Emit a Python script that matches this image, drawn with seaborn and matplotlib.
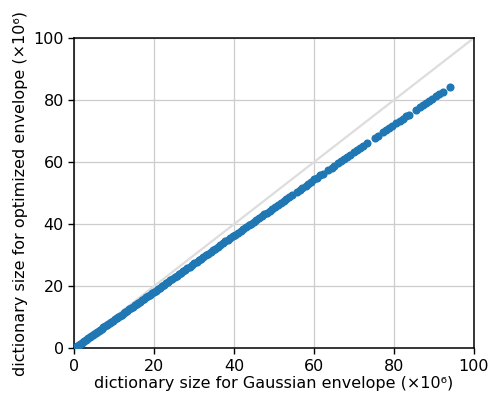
import matplotlib
matplotlib.use("Agg")
import matplotlib.pyplot as plt
import seaborn as sns
import pandas as pd

# dictionary sizes (millions) for the two envelope choices
gaussian_size = [
    0.3, 0.6, 0.9, 1.2, 1.5, 1.8, 2.1, 2.5, 2.8, 3.2, 3.5, 3.9, 4.2, 4.6, 5.0, 5.3, 5.7,
    6.1, 6.5, 6.9, 7.3, 7.7, 8.1, 8.5, 8.9, 9.3, 9.7, 10.2, 10.6, 11.0, 11.5, 11.9, 12.4,
    12.8, 13.3, 13.7, 14.2, 14.6, 15.1, 15.6, 16.0, 16.5, 17.0, 17.5, 18.0, 18.4, 18.9,
    19.4, 19.9, 20.4, 20.9, 21.4, 21.9, 22.4, 23.0, 23.5, 24.0, 24.5, 25.1, 25.6, 26.1,
    26.7, 27.2, 27.8, 28.3, 28.9, 29.4, 30.0, 30.6, 31.1, 31.7, 32.3, 32.9, 33.5, 34.1,
    34.7, 35.3, 35.9, 36.5, 37.1, 37.8, 38.4, 39.0, 39.7, 40.3,
    41.0, 41.6, 42.3, 42.9, 43.6, 44.2, 44.9, 45.5, 46.2, 46.9, 47.5, 48.2, 48.9, 49.6,
    50.3, 51.0, 51.7, 52.4, 53.1, 53.8, 54.5, 55.7, 56.4, 57.1, 57.9, 58.6, 59.3, 60.1,
    60.8, 61.6, 62.3, 63.6, 64.4, 65.1, 65.9, 66.7, 67.5, 68.3, 69.1, 69.9, 70.7, 71.5,
    72.3, 73.2, 75.2, 76.0, 77.2, 78.0, 78.8, 79.6, 80.6, 81.4, 82.2, 83.0, 83.8, 85.6,
    86.4, 87.2, 88.0, 88.8, 89.6, 90.6, 91.4, 92.2, 94.0,
]
optimized_size = [
    0.27, 0.55, 0.82, 1.09, 1.37, 1.64, 1.91, 2.28, 2.55, 2.91, 3.19, 3.55, 3.82, 4.19,
    4.55, 4.82, 5.19, 5.55, 5.92, 6.28, 6.64, 7.0, 7.37, 7.74, 8.1, 8.46, 8.83, 9.28,
    9.65, 10.0, 10.47, 10.83, 11.28, 11.65, 12.1, 12.47, 12.92, 13.29, 13.74, 14.2,
    14.56, 15.0, 15.47, 15.93, 16.38, 16.74, 17.2, 17.65, 18.1, 18.56, 19.0, 19.47,
    19.93, 20.38, 20.9, 21.4, 21.8, 22.3, 22.8, 23.3, 23.75, 24.3, 24.75, 25.3, 25.7,
    26.3, 26.75, 27.3, 27.8, 28.3, 28.8, 29.4, 29.9, 30.5, 31.0, 31.6, 32.1, 32.7, 33.2,
    33.75, 34.4, 34.9, 35.5, 36.1, 36.6,
    37.2, 37.8, 38.4, 38.9, 39.6, 40.1, 40.7, 41.3, 41.9, 42.5, 43.1, 43.7, 44.3, 45.0,
    45.6, 46.2, 46.8, 47.5, 48.1, 48.7, 49.3, 50.4, 51.1, 51.7, 52.4, 53.0, 53.7, 54.4,
    55.0, 55.7, 56.3, 57.5, 58.2, 58.8, 59.6, 60.3, 61.0, 61.7, 62.4, 63.2, 63.9, 64.6,
    65.3, 66.0, 67.8, 68.5, 69.6, 70.3, 71.0, 71.7, 72.6, 73.3, 74.0, 74.7, 75.3, 76.8,
    77.6, 78.3, 79.0, 79.7, 80.4, 81.3, 82.0, 82.7, 84.2,
]
diagonal = [0, 100]
ticks = [0, 20, 40, 60, 80, 100]

df = pd.DataFrame({"gaussian": gaussian_size, "optimized": optimized_size})

sns.set_style("ticks")
plt.rcParams["font.family"] = ["DejaVu Sans"]
plt.rcParams["text.color"] = "black"
plt.rcParams["axes.labelcolor"] = "black"
plt.rcParams["xtick.color"] = "black"
plt.rcParams["ytick.color"] = "black"

fig, ax = plt.subplots(figsize=(4.89, 3.96), dpi=100)
fig.subplots_adjust(left=0.152, right=0.969, top=0.904, bottom=0.121)

ax.grid(True, color="#cccccc", linewidth=0.9)
ax.set_axisbelow(True)
sns.lineplot(x=diagonal, y=diagonal, ax=ax, color="#dddddd", linewidth=1.6, zorder=1)
sns.scatterplot(data=df, x="gaussian", y="optimized", ax=ax, color="#1f77b4",
                s=34, linewidth=0, zorder=3)

ax.set_xlim(0, 100)
ax.set_ylim(0, 100)
ax.set_xticks(ticks)
ax.set_yticks(ticks)
ax.tick_params(labelsize=11.5, length=4, width=1, color="black", labelcolor="black")
for sp in ax.spines.values():
    sp.set_visible(True)
    sp.set_color("black")
    sp.set_linewidth(1.1)
ax.set_xlabel("dictionary size for Gaussian envelope (×10⁶)", fontsize=11.5, labelpad=2)
ax.set_ylabel("dictionary size for optimized envelope (×10⁶)", fontsize=11.5, labelpad=4)

fig.savefig("out.png", dpi=100)
